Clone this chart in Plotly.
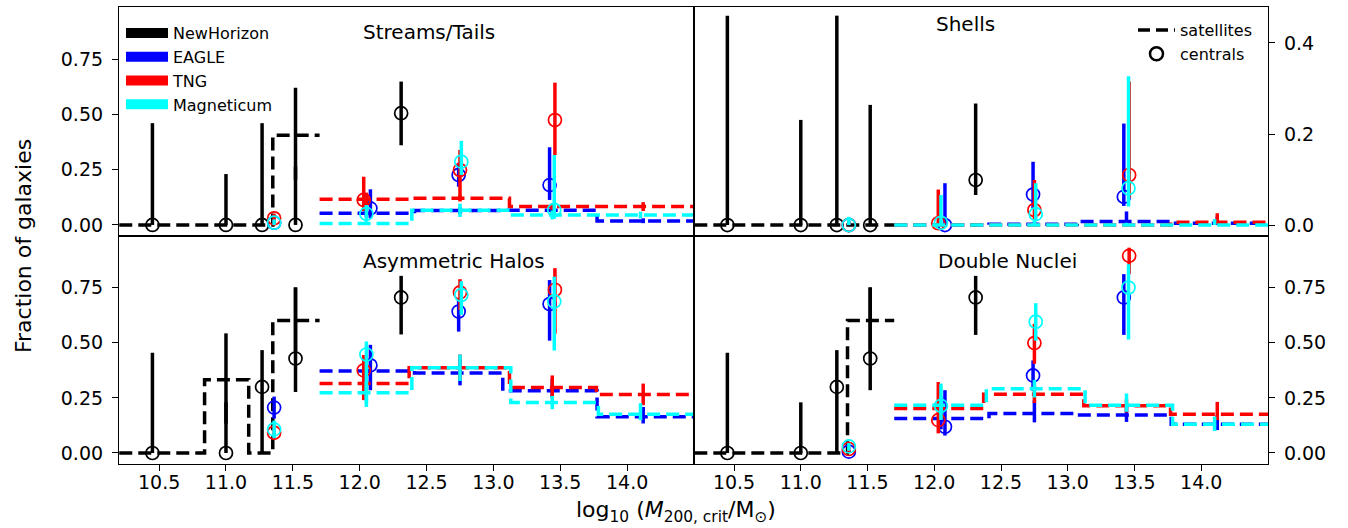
import plotly.graph_objects as go
from plotly.subplots import make_subplots

# ---------------- data ----------------
SIMS = ["NewHorizon", "EAGLE", "TNG", "Magneticum"]
PANELS = ["Streams/Tails", "Shells", "Asymmetric Halos", "Double Nuclei"]

X_TICKS = [10.5, 11.0, 11.5, 12.0, 12.5, 13.0, 13.5, 14.0]
Y_TICKS_FULL = [0.0, 0.25, 0.50, 0.75]
Y_TICKS_SHELLS = [0.0, 0.2, 0.4]

# centrals: x positions (log10 M200)
CEN_X = {
    "NewHorizon": [10.45, 11.0, 11.27, 11.52, 12.31],
    "EAGLE": [11.36, 12.08, 12.74, 13.42],
    "TNG": [11.36, 12.03, 12.75, 13.46],
    "Magneticum": [11.36, 12.05, 12.76, 13.455],
}
# satellites: bin edges and bin centres
SAT_EDGES = {
    "NewHorizon": [10.06, 10.84, 11.17, 11.35, 11.70],
    "EAGLE": [11.70, 12.41, 13.07, 13.775, 14.50],
    "TNG": [11.70, 12.37, 13.12, 13.77, 14.50],
    "Magneticum": [11.70, 12.39, 13.13, 13.785, 14.50],
}
SAT_X = {
    "NewHorizon": [10.45, 11.0, 11.26, 11.52],
    "EAGLE": [12.05, 12.75, 13.44, 14.12],
    "TNG": [12.05, 12.75, 13.44, 14.12],
    "Magneticum": [12.05, 12.75, 13.44, 14.10],
}

# ---- Streams/Tails ----
streams_cen = {"NewHorizon": [0, 0, 0, 0, 0.505], "EAGLE": [0.01, 0.075, 0.226, 0.18],
               "TNG": [0.03, 0.113, 0.248, 0.474], "Magneticum": [0.01, 0.05, 0.286, 0.068]}
streams_cen_lo = {"NewHorizon": [0, 0, 0, 0, 0.145], "EAGLE": [0.01, 0.045, 0.053, 0.067],
                  "TNG": [0.02, 0.05, 0.13, 0.158], "Magneticum": [0.01, 0.03, 0.06, 0.04]}
streams_cen_hi = {"NewHorizon": [0.46, 0.23, 0.46, 0.264, 0.143], "EAGLE": [0.015, 0.086, 0.055, 0.171],
                  "TNG": [0.02, 0.105, 0.091, 0.169], "Magneticum": [0.015, 0.04, 0.094, 0.248]}
streams_sat = {"NewHorizon": [0, 0, 0, 0.405], "EAGLE": [0.053, 0.065, 0.066, 0.018],
               "TNG": [0.116, 0.121, 0.083, 0.083], "Magneticum": [0.007, 0.066, 0.045, 0.045]}
streams_sat_lo = {"NewHorizon": [0, 0, 0, 0.2], "EAGLE": [0.02, 0.015, 0.02, 0.01],
                  "TNG": [0.03, 0.015, 0.015, 0.02], "Magneticum": [0.007, 0.03, 0.02, 0.015]}
streams_sat_hi = {"NewHorizon": [0, 0, 0, 0.215], "EAGLE": [0.02, 0.015, 0.02, 0.012],
                  "TNG": [0.03, 0.015, 0.015, 0.02], "Magneticum": [0.01, 0.03, 0.02, 0.015]}

# ---- Shells ----
shells_cen = {"NewHorizon": [0, 0, 0, 0, 0.099], "EAGLE": [0.0, 0.0, 0.067, 0.062],
              "TNG": [0.0, 0.004, 0.033, 0.11], "Magneticum": [0.0, 0.005, 0.024, 0.081]}
shells_cen_lo = {"NewHorizon": [0, 0, 0, 0, 0.033], "EAGLE": [0, 0, 0.03, 0.02],
                 "TNG": [0, 0.004, 0.02, 0.05], "Magneticum": [0, 0.005, 0.015, 0.04]}
shells_cen_hi = {"NewHorizon": [0.46, 0.231, 0.46, 0.264, 0.168], "EAGLE": [0.008, 0.092, 0.072, 0.161],
                 "TNG": [0.008, 0.074, 0.066, 0.205], "Magneticum": [0.018, 0.061, 0.068, 0.246]}
shells_sat = {"NewHorizon": [0, 0, 0, 0], "EAGLE": [0.0, 0.002, 0.008, 0.004],
              "TNG": [0.0, 0.0, 0.0, 0.006], "Magneticum": [0.0, 0.0, 0.0, 0.0]}
shells_sat_lo = {"NewHorizon": [0, 0, 0, 0], "EAGLE": [0, 0.002, 0.005, 0.004],
                 "TNG": [0, 0, 0, 0.004], "Magneticum": [0, 0, 0, 0]}
shells_sat_hi = {"NewHorizon": [0, 0, 0, 0], "EAGLE": [0.003, 0.005, 0.022, 0.015],
                 "TNG": [0.003, 0.004, 0.004, 0.02], "Magneticum": [0.003, 0.01, 0.005, 0.013]}

# ---- Asymmetric Halos ----
asym_cen = {"NewHorizon": [0, 0, 0.3, 0.429, 0.706], "EAGLE": [0.206, 0.398, 0.642, 0.676],
            "TNG": [0.092, 0.375, 0.729, 0.741], "Magneticum": [0.107, 0.447, 0.717, 0.688]}
asym_cen_lo = {"NewHorizon": [0, 0, 0.3, 0.152, 0.168], "EAGLE": [0.05, 0.113, 0.091, 0.166],
               "TNG": [0.03, 0.135, 0.08, 0.2], "Magneticum": [0.04, 0.238, 0.09, 0.223]}
asym_cen_hi = {"NewHorizon": [0.455, 0.23, 0.167, 0.323, 0.098], "EAGLE": [0.05, 0.093, 0.06, 0.109],
               "TNG": [0.03, 0.07, 0.06, 0.098], "Magneticum": [0.04, 0.059, 0.063, 0.112]}
asym_sat = {"NewHorizon": [0, 0.333, 0, 0.601], "EAGLE": [0.372, 0.363, 0.282, 0.164],
            "TNG": [0.315, 0.387, 0.297, 0.265], "Magneticum": [0.274, 0.387, 0.229, 0.176]}
asym_sat_lo = {"NewHorizon": [0, 0.2, 0, 0.15], "EAGLE": [0.05, 0.056, 0.035, 0.03],
               "TNG": [0.05, 0.05, 0.043, 0.048], "Magneticum": [0.05, 0.06, 0.03, 0.027]}
asym_sat_hi = {"NewHorizon": [0, 0.21, 0, 0.15], "EAGLE": [0.05, 0.065, 0.055, 0.045],
               "TNG": [0.05, 0.06, 0.055, 0.05], "Magneticum": [0.05, 0.06, 0.03, 0.05]}

# ---- Double Nuclei ----
double_cen = {"NewHorizon": [0, 0, 0.3, 0.429, 0.706], "EAGLE": [0.006, 0.119, 0.352, 0.706],
              "TNG": [0.018, 0.149, 0.499, 0.895], "Magneticum": [0.03, 0.214, 0.596, 0.751]}
double_cen_lo = {"NewHorizon": [0, 0, 0.3, 0.144, 0.17], "EAGLE": [0.006, 0.04, 0.07, 0.17],
                 "TNG": [0.018, 0.06, 0.094, 0.083], "Magneticum": [0.02, 0.064, 0.086, 0.236]}
double_cen_hi = {"NewHorizon": [0.455, 0.23, 0.167, 0.323, 0.098], "EAGLE": [0.01, 0.166, 0.068, 0.106],
                 "TNG": [0.012, 0.173, 0.087, 0.037], "Magneticum": [0.015, 0.101, 0.084, 0.106]}
double_sat = {"NewHorizon": [0, 0, 0, 0.601], "EAGLE": [0.157, 0.179, 0.172, 0.131],
              "TNG": [0.202, 0.267, 0.214, 0.176], "Magneticum": [0.217, 0.292, 0.217, 0.13]}
double_sat_lo = {"NewHorizon": [0, 0, 0, 0.15], "EAGLE": [0.05, 0.04, 0.031, 0.027],
                 "TNG": [0.05, 0.04, 0.03, 0.027], "Magneticum": [0.04, 0.04, 0.03, 0.03]}
double_sat_hi = {"NewHorizon": [0, 0, 0, 0.15], "EAGLE": [0.05, 0.06, 0.037, 0.04],
                 "TNG": [0.05, 0.04, 0.03, 0.056], "Magneticum": [0.04, 0.04, 0.053, 0.035]}

PANEL_DATA = [
    (streams_cen, streams_cen_lo, streams_cen_hi, streams_sat, streams_sat_lo, streams_sat_hi),
    (shells_cen, shells_cen_lo, shells_cen_hi, shells_sat, shells_sat_lo, shells_sat_hi),
    (asym_cen, asym_cen_lo, asym_cen_hi, asym_sat, asym_sat_lo, asym_sat_hi),
    (double_cen, double_cen_lo, double_cen_hi, double_sat, double_sat_lo, double_sat_hi),
]

# ---------------- style ----------------
COLORS = {"NewHorizon": "#000000", "EAGLE": "#0000ff", "TNG": "#ff0000", "Magneticum": "#00ffff"}
FONT = "DejaVu Sans"
W, H = 1348, 528
PL, PR, PT, PB = 119, 1268, 7, 464   # plot-area pixel box
XMID, YMID = 694, 236
LW = 3.5
DASH = "13px,6px"


def fx(px):
    return (px - PL) / (PR - PL)


def fy(py):
    return (PB - py) / (PB - PT)


fig = make_subplots(rows=2, cols=2, horizontal_spacing=0, vertical_spacing=0)
positions = [(1, 1), (1, 2), (2, 1), (2, 2)]

for (row, col), data in zip(positions, PANEL_DATA):
    cen, cen_lo, cen_hi, sat, sat_lo, sat_hi = data
    for sim in SIMS:
        c = COLORS[sim]
        edges = SAT_EDGES[sim]
        vals = sat[sim]
        fig.add_trace(go.Scatter(
            x=edges, y=vals + [vals[-1]], mode="lines", line_shape="hv",
            line=dict(color=c, width=LW, dash=DASH), showlegend=False, hoverinfo="skip"),
            row=row, col=col)
        fig.add_trace(go.Scatter(
            x=SAT_X[sim], y=vals, mode="markers", marker=dict(size=0.1, color=c),
            error_y=dict(type="data", symmetric=False, array=sat_hi[sim], arrayminus=sat_lo[sim],
                         color=c, thickness=LW, width=0),
            showlegend=False, hoverinfo="skip"), row=row, col=col)
        fig.add_trace(go.Scatter(
            x=CEN_X[sim], y=cen[sim], mode="markers",
            marker=dict(symbol="circle-open", size=13, color=c, line=dict(color=c, width=1.7)),
            error_y=dict(type="data", symmetric=False, array=cen_hi[sim], arrayminus=cen_lo[sim],
                         color=c, thickness=LW, width=0),
            showlegend=False, hoverinfo="skip"), row=row, col=col)

# legend entries (simulations)
for sim in SIMS:
    fig.add_trace(go.Scatter(x=[None], y=[None], mode="lines", name=sim,
                             line=dict(color=COLORS[sim], width=13), legend="legend"), row=1, col=1)
# legend entries (satellites / centrals)
fig.add_trace(go.Scatter(x=[None], y=[None], mode="lines", name="satellites",
                         line=dict(color="black", width=LW, dash="12px,6px"), legend="legend2"), row=1, col=2)
fig.add_trace(go.Scatter(x=[None], y=[None], mode="markers", name="centrals",
                         marker=dict(symbol="circle-open", size=13, color="black", line=dict(width=2.5)),
                         legend="legend2"), row=1, col=2)

axis_common = dict(showline=True, linecolor="black", linewidth=1.2, mirror=True,
                   showgrid=False, zeroline=False, tickcolor="black", tickwidth=1.2, ticklen=6,
                   tickfont=dict(family=FONT, size=19, color="black"))

xd_left = [0, fx(XMID)]
xd_right = [fx(XMID), 1]
yd_top = [fy(YMID), 1]
yd_bot = [0, fy(YMID)]

xt = dict(tickvals=X_TICKS, ticktext=[f"{v:.1f}" for v in X_TICKS], range=[10.2, 14.5],
          ticklabelstandoff=-5)
yt_std = dict(ticklabelstandoff=5)
fig.update_layout(
    xaxis=dict(**axis_common, **xt, domain=xd_left, ticks="", showticklabels=False),
    xaxis2=dict(**axis_common, **xt, domain=xd_right, ticks="", showticklabels=False),
    xaxis3=dict(**axis_common, **xt, domain=xd_left, ticks="outside"),
    xaxis4=dict(**axis_common, **xt, domain=xd_right, ticks="outside"),
    yaxis=dict(**axis_common, **yt_std, domain=yd_top, range=[-0.05, 0.985], ticks="outside", side="left",
               tickvals=Y_TICKS_FULL, ticktext=[f"{v:.2f}" for v in Y_TICKS_FULL]),
    yaxis2=dict(**axis_common, **yt_std, domain=yd_top, range=[-0.024, 0.479], ticks="outside", side="right",
                tickvals=Y_TICKS_SHELLS, ticktext=[f"{v:.1f}" for v in Y_TICKS_SHELLS]),
    yaxis3=dict(**axis_common, **yt_std, domain=yd_bot, range=[-0.05, 0.985], ticks="outside", side="left",
                tickvals=Y_TICKS_FULL, ticktext=[f"{v:.2f}" for v in Y_TICKS_FULL]),
    yaxis4=dict(**axis_common, **yt_std, domain=yd_bot, range=[-0.05, 0.985], ticks="outside", side="right",
                tickvals=Y_TICKS_FULL, ticktext=[f"{v:.2f}" for v in Y_TICKS_FULL]),
)

title_pos = [(429, 32), (965, 24), (454, 261), (1007, 261)]
annotations = []
for name, (px, py) in zip(PANELS, title_pos):
    annotations.append(dict(text=name, x=fx(px), y=fy(py), xref="paper", yref="paper",
                            xanchor="center", yanchor="middle", showarrow=False,
                            font=dict(family=FONT, size=20, color="black")))
annotations.append(dict(text="Fraction of galaxies", x=fx(23), y=fy(246), xref="paper", yref="paper",
                        textangle=-90, xanchor="center", yanchor="middle", showarrow=False,
                        font=dict(family=FONT, size=22, color="black")))
annotations.append(dict(text="log<sub>10</sub> (<i>M</i><sub>200, crit</sub>/M<sub>\u2299</sub>)",
                        x=fx(676), y=fy(511), xref="paper", yref="paper",
                        xanchor="center", yanchor="middle", showarrow=False,
                        font=dict(family=FONT, size=22, color="black")))

fig.update_layout(
    width=W, height=H,
    margin=dict(l=PL, r=W - PR, t=PT, b=H - PB, pad=0),
    paper_bgcolor="white", plot_bgcolor="white",
    font=dict(family=FONT, color="black"),
    annotations=annotations,
    legend=dict(x=fx(121), y=fy(16), xanchor="left", yanchor="top", bgcolor="rgba(0,0,0,0)",
                font=dict(family=FONT, size=16, color="black"), itemwidth=42),
    legend2=dict(x=fx(1133), y=fy(13), xanchor="left", yanchor="top", bgcolor="rgba(0,0,0,0)",
                 font=dict(family=FONT, size=16, color="black"), itemwidth=37),
)

fig.write_html("out.html", config={"displayModeBar": False},
               post_script="document.body.style.margin='0px';")
